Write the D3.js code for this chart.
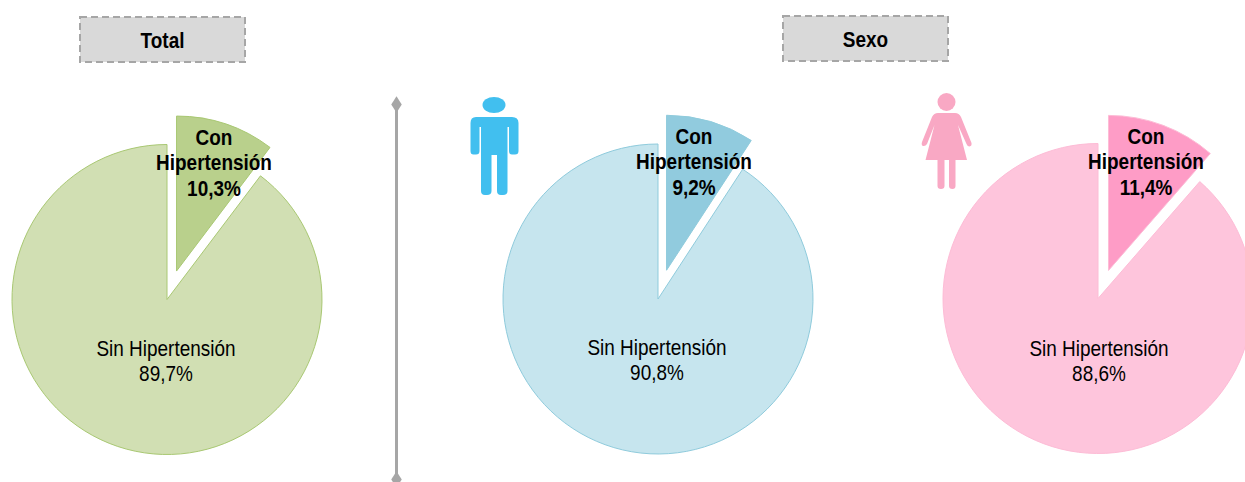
<!DOCTYPE html>
<html><head><meta charset="utf-8">
<script src="https://cdn.jsdelivr.net/npm/d3@7"></script>
<style>html,body{margin:0;background:#fff;overflow:hidden}text{font-family:"Liberation Sans",Arial,sans-serif;fill:#000}</style>
</head><body><svg id="c" width="1245" height="482"></svg>
<script>
const categories = ["Con Hipertensión", "Sin Hipertensión"];
const panelNames = ["Total", "Hombres", "Mujeres"];
const conValues = [10.3, 9.2, 11.4];
const sinValues = [89.7, 90.8, 88.6];
const centersX = [167, 658, 1098];
const centersY = [299.5, 299, 298.5];
const mainColors = ["#d1dfb3", "#c6e5ee", "#fec5dc"];
const sliceColors = ["#b9d08c", "#91cbde", "#fe9cc6"];
const strokeColors = ["#a9c873", "#8fcbdc", "#fdbcd6"];
const headers = [["Total", 80, 17], ["Sexo", 783, 16]];
const fmt = v => String(v.toFixed(1)).replace(".", ",") + "%";

const svg = d3.select("#c");
const R = 155, explode = 30, sx = 0.882, fs = 21.5;
const pie = d3.pie().sort(null).value(d => d.v);
const arc = d3.arc().innerRadius(0).outerRadius(R);

headers.forEach(([t, x, y]) => {
  svg.append("rect").attr("x", x).attr("y", y).attr("width", 165).attr("height", 45)
    .attr("fill", "#d9d9d9").attr("stroke", "#a6a6a6").attr("stroke-width", 2).attr("stroke-dasharray", "7 4");
  svg.append("text").attr("transform", `translate(${x + 82.5},${y + 31}) scale(${sx},1)`)
    .attr("text-anchor", "middle").attr("font-size", fs).attr("font-weight", "bold").text(t);
});

// divider
svg.append("line").attr("x1", 396.5).attr("x2", 396.5).attr("y1", 104).attr("y2", 478)
  .attr("stroke", "#a6a6a6").attr("stroke-width", 3);
[104.5, 479.5].forEach(y => svg.append("path").attr("d", d3.symbol(d3.symbolDiamond, 95)())
  .attr("transform", `translate(396.5,${y}) scale(1,0.9)`).attr("fill", "#a6a6a6"));

panelNames.forEach((name, i) => {
  const data = [{c: categories[0], v: conValues[i]}, {c: categories[1], v: sinValues[i]}];
  const arcs = pie(data);
  const g = svg.append("g").attr("transform", `translate(${centersX[i]},${centersY[i]})`);
  g.selectAll("path").data(arcs).join("path")
    .attr("d", arc)
    .attr("transform", (d, k) => {
      if (k) return null;
      const m = (d.startAngle + d.endAngle) / 2;
      return `translate(${Math.sin(m) * explode},${-Math.cos(m) * explode})`;
    })
    .attr("fill", (d, k) => k ? mainColors[i] : sliceColors[i])
    .attr("stroke", strokeColors[i]).attr("stroke-width", 1);

  const tx = [47, 36, 48][i];
  [["Con", -155], ["Hipertensión", -130], [fmt(conValues[i]), -104]].forEach(([t, y]) => {
    g.append("text").attr("transform", `translate(${tx},${y}) scale(${sx},1)`)
      .attr("text-anchor", "middle").attr("font-size", fs).attr("font-weight", "bold").text(t);
  });
  const lx = [-1, -1, 1][i], ly = [0, 0, 1][i];
  [[categories[1], 56], [fmt(sinValues[i]), 81]].forEach(([t, y]) => {
    g.append("text").attr("transform", `translate(${lx},${y + ly}) scale(${sx},1)`)
      .attr("text-anchor", "middle").attr("font-size", fs).text(t);
  });
});

// man icon
const man = svg.append("g").attr("fill", "#41bfef");
man.append("ellipse").attr("cx", 494).attr("cy", 105).attr("rx", 11.5).attr("ry", 8);
man.append("path").attr("d", "M476 117H512Q518.500 117 518.500 123V151Q518.500 154.500 515 154.500H512Q509 154.500 509 151V127H507.500V191Q507.500 195 503 195H501Q497 195 497 191V155H491.500V191Q491.500 195 487 195H485Q481 195 481 191V127H479.500V151Q479.500 154.500 476 154.500H473.500Q470.500 154.500 470.500 151V123Q470.500 117 476 117Z");

// woman icon
const woman = svg.append("g").attr("fill", "#f9a8c4");
woman.append("circle").attr("cx", 946.5).attr("cy", 102).attr("r", 9);
woman.append("path").attr("d", "M938 113H955Q959 113 961 117L971.500 143Q972 146 969.500 146.500Q967.500 146.500 966.500 144L958 125L967 160H955.500V186Q955.500 189 952.500 189Q949 189 949 186V160H944.500V186Q944.500 189 941 189Q937.500 189 937.500 186V160H925.500L934.500 125L927 144Q925.500 146.500 923 146Q921 145 922 142L932 117Q934 113 938 113Z");
</script></body></html>
